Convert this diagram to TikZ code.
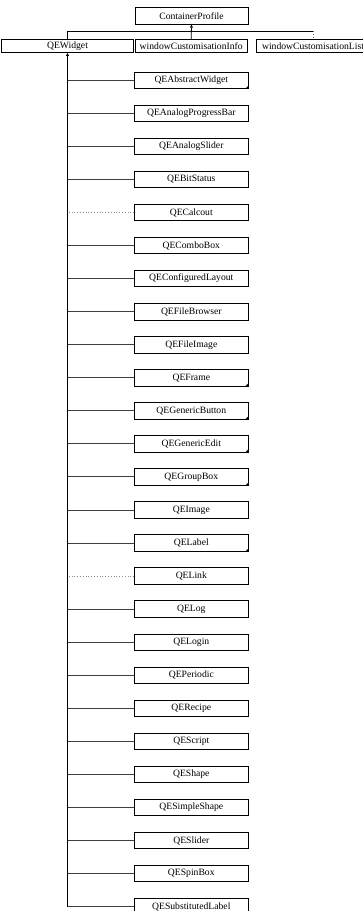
\documentclass[tikz,border=0pt]{standalone}
\usepackage{fontspec}
\setmainfont{Liberation Serif}
\usetikzlibrary{arrows.meta}
\begin{document}
\begin{tikzpicture}[x=1pt,y=-1pt,
  box/.style={draw=black,line width=0.8pt,fill=white,inner sep=0pt,
    minimum width=114pt,minimum height=16.5pt,
    font=\fontsize{9.65}{11}\selectfont},
  topbox/.style={box,minimum height=12.8pt},
  conn/.style={draw=black!75,line width=0.9pt},
  dotconn/.style={draw=black!45,line width=0.8pt,dotted},
  inh/.style={draw=black,line width=0.8pt,-{Triangle[open,length=3pt,width=3pt]}},
]
\useasboundingbox (0,0) rectangle (363,911);
\fill[white] (0,0) rectangle (363,911);
% top
\node[box,minimum width=113pt,minimum height=17pt] (cp) at (191.5,15.8) {ContainerProfile};
\node[topbox,minimum width=131.6pt] (qw) at (67.5,46.1) {QEWidget};
\node[topbox,minimum width=112.3pt] (wci) at (191.2,46.1) {windowCustomisationInfo};
\node[topbox,minimum width=112.3pt] (wcl) at (313,46.1) {windowCustomisationList};
\coordinate (jl) at (qw.north |- 0,31);
\coordinate (jr) at (wcl.north |- 0,31);
\draw[inh] (wci.north) -- (cp.south);
\draw[draw=black,line width=0.8pt] (qw.north) -- (jl) -- (jr);
\draw[dotconn,draw=black!60] (jr) -- (wcl.north);
% children
\foreach \n [count=\i from 0] in {QEAbstractWidget,QEAnalogProgressBar,QEAnalogSlider,QEBitStatus,QECalcout,QEComboBox,QEConfiguredLayout,QEFileBrowser,QEFileImage,QEFrame,QEGenericButton,QEGenericEdit,QEGroupBox,QEImage,QELabel,QELink,QELog,QELogin,QEPeriodic,QERecipe,QEScript,QEShape,QESimpleShape,QESlider,QESpinBox,QESubstitutedLabel}
  \node[box] (\n) at (191.3,{80.3+\i*33.05}) {\n};
\foreach \n in {QEAbstractWidget,QEAnalogProgressBar,QEAnalogSlider,QEBitStatus,QEComboBox,QEConfiguredLayout,QEFileBrowser,QEFileImage,QEFrame,QEGenericButton,QEGenericEdit,QEGroupBox,QEImage,QELabel,QELog,QELogin,QEPeriodic,QERecipe,QEScript,QEShape,QESimpleShape,QESlider,QESpinBox,QESubstitutedLabel}
  \draw[conn] (\n.west) -- (\n.west -| qw.south);
\foreach \n in {QECalcout,QELink}
  \draw[dotconn] (\n.west) -- (\n.west -| qw.south);
\foreach \n in {QEAbstractWidget,QEFrame,QEGenericButton,QEGenericEdit,QEGroupBox,QELabel}
  \fill[black] (\n.south east) -- ++(-3.5,0) -- ++(3.5,-3.5) -- cycle;
\coordinate (tb) at (QESubstitutedLabel.west -| qw.south);
\draw[inh] (tb) -- (qw.south);
\end{tikzpicture}
\end{document}
